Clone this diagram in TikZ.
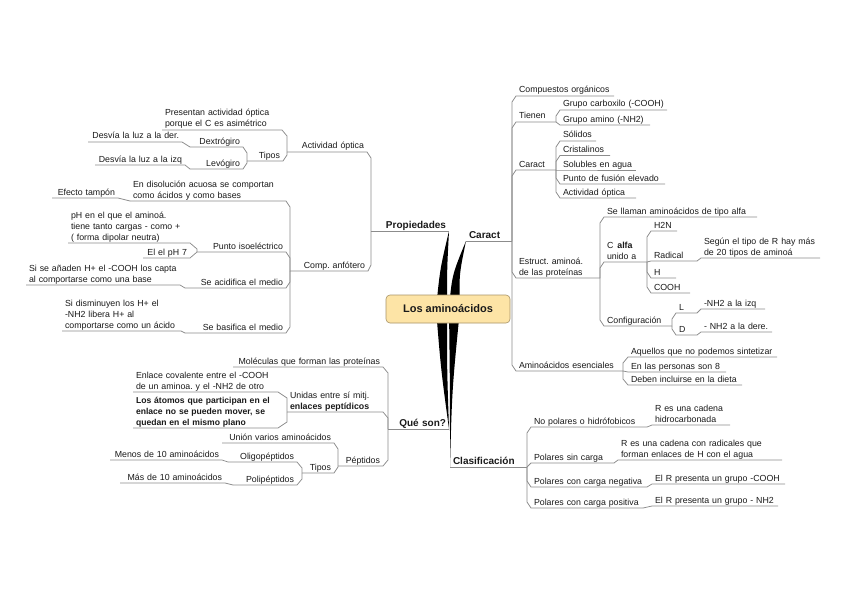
\documentclass[tikz,border=0pt]{standalone}
\usepackage{fontspec}
\setmainfont{Liberation Sans}
\usetikzlibrary{calc}
\frenchspacing
\definecolor{lineg}{HTML}{8C8C8C}
\definecolor{boxfill}{HTML}{FDE4A6}
\definecolor{boxdraw}{HTML}{A89468}
\definecolor{txt}{HTML}{1A1A1A}
\newcommand\rconn[3]{\draw[conn] (#1.south east) -- ($(#1.south east |- #2.south west)+(0,#3)$) -- (#2.south west) -- (#2.south east);}
\newcommand\lconn[3]{\draw[conn] (#1.south west) -- ($(#1.south west |- #2.south east)+(0,#3)$) -- (#2.south east) -- (#2.south west);}
\tikzset{
  tn/.style={inner xsep=3pt, inner ysep=0.8pt, outer sep=0pt, text depth=2.2pt, text=txt, font=\fontsize{8.8}{11}\selectfont},
  rn/.style={tn, anchor=south west, align=left, text width=#1},
  ln/.style={tn, anchor=south east, align=right, text width=#1},
  lnl/.style={tn, anchor=south east, align=left, text width=#1},
  mltwo/.style={text depth=13.2pt},
  mlthree/.style={text depth=24.2pt},
  mainf/.style={font=\fontsize{10}{12}\selectfont\bfseries},
  conn/.style={draw=lineg, line width=0.75pt},
  spike/.style={fill=black},
  rootbox/.style={rounded corners=4pt, minimum width=124pt, minimum height=28pt, fill=boxfill, draw=boxdraw, line width=0.6pt, text=txt, font=\fontsize{11}{13}\selectfont\bfseries, inner sep=0pt},
}
\begin{document}
\begin{tikzpicture}[x=1pt, y=-1pt]
\fill[white] (0,0) rectangle (848,599);
\useasboundingbox (0,0) rectangle (848,599);

% ---------- main branch nodes ----------
\node[rn=40pt, mainf] (caract) at (466,241) {Caract};
\node[rn=71pt, mainf] (clasif) at (450,467) {Clasificación};
\node[ln=72pt, mainf] (propied) at (449,231) {Propiedades};
\node[ln=55pt, mainf] (queson) at (449,429) {Qué son?};

% ---------- right side: Caract ----------
\node[rn=92pt] (comp) at (516,96) {Compuestos orgánicos};
\node[rn=34pt] (tienen) at (516,122) {Tienen};
\node[rn=101pt] (carbox) at (560,110) {Grupo carboxilo (-COOH)};
\node[rn=84pt] (amino) at (560,125) {Grupo amino (-NH2)};
\node[rn=34pt] (caract2) at (516,170) {Caract};
\node[rn=30pt] (solidos) at (560,141) {Sólidos};
\node[rn=44pt] (cristal) at (560,155.5) {Cristalinos};
\node[rn=70pt] (solub) at (560,170) {Solubles en agua};
\node[rn=99pt] (punto) at (560,184) {Punto de fusión elevado};
\node[rn=70pt] (actopt) at (560,198) {Actividad óptica};
\node[rn=78pt, mltwo] (estruct) at (516,278) {Estruct. aminoá.\\de las proteínas};
\node[rn=147pt] (sellaman) at (604,217) {Se llaman aminoácidos de tipo alfa};
\node[rn=37pt, mltwo] (calfa) at (604,262) {C\hspace{4pt}\textbf{alfa}\\unido a};
\node[rn=20pt] (h2n) at (651,231) {H2N};
\node[rn=40pt] (radical) at (651,261) {Radical};
\node[rn=113pt, mltwo] (segun) at (701,258) {Según el tipo de R hay más\\de 20 tipos de aminoá};
\node[rn=19pt] (hh) at (651,278) {H};
\node[rn=33pt] (cooh) at (651,293) {COOH};
\node[rn=62pt] (config) at (604,326) {Configuración};
\node[rn=15pt] (ll) at (676,313) {L};
\node[rn=58pt] (nhizq) at (701,309) {-NH2 a la izq};
\node[rn=15pt] (dd) at (676,335) {D};
\node[rn=65pt] (nhder) at (701,332) {- NH2 a la dere.};
\node[rn=101pt] (esenc) at (516,371) {Aminoácidos esenciales};
\node[rn=143pt] (aquellos) at (628,357) {Aquellos que no podemos sintetizar};
\node[rn=92pt] (personas) at (628,372) {En las personas son 8};
\node[rn=108pt] (dieta) at (628,385) {Deben incluirse en la dieta};

% ---------- right side: Clasificacion ----------
\node[rn=110pt] (nopol) at (531,427) {No polares o hidrófobicos};
\node[rn=72pt, mltwo] (hidroc) at (652,425) {R es una cadena\\hidrocarbonada};
\node[rn=77pt] (sincarga) at (531,463) {Polares sin carga};
\node[rn=158pt, mltwo] (radh) at (618,460) {R es una cadena con radicales que\\forman enlaces de H con el agua};
\node[rn=110pt] (negat) at (531,487) {Polares con carga negativa};
\node[rn=127pt] (elcooh) at (652,484) {El R presenta un grupo -COOH};
\node[rn=106pt] (posit) at (531,508) {Polares con carga positiva};
\node[rn=120pt] (elnh) at (652,506) {El R presenta un grupo - NH2};

% ---------- left side: Propiedades ----------
\node[ln=74pt] (activ) at (367,152) {Actividad óptica};
\node[lnl=114pt, mltwo] (presentan) at (282,130) {Presentan actividad óptica\\porque el C es asimétrico};
\node[ln=30pt] (tipos1) at (283,161) {Tipos};
\node[ln=47pt] (dextro) at (243,147) {Dextrógiro};
\node[ln=88pt] (desvder) at (182,142) {Desvía la luz a la der.};
\node[ln=47pt] (levo) at (243,169) {Levógiro};
\node[ln=84pt] (desvizq) at (185,165) {Desvía la luz a la izq};
\node[ln=72pt] (anfot) at (368,271) {Comp. anfótero};
\node[lnl=150pt, mltwo] (disol) at (286,201) {En disolución acuosa se comportan\\como ácidos y como bases};
\node[ln=60pt] (tampon) at (118,198) {Efecto tampón};
\node[ln=83pt] (isoel) at (286,252) {Punto isoeléctrico};
\node[lnl=116pt, mlthree] (phen) at (190,243) {pH en el que el aminoá.\\tiene tanto cargas - como +\\( forma dipolar neutra)};
\node[ln=41pt] (ph7) at (190,258) {El el pH 7};
\node[ln=95pt] (acid) at (286,288) {Se acidifica el medio};
\node[lnl=148pt, mltwo] (anaden) at (180,285) {Si se añaden H+ el -COOH los capta\\al comportarse como una base};
\node[ln=95pt] (basif) at (286,333) {Se basifica el medio};
\node[lnl=113pt, mlthree] (dismin) at (181,331) {Si disminuyen los H+ el\\-NH2 libera H+ al\\comportarse como un ácido};

% ---------- left side: Que son ----------
\node[ln=144pt] (molec) at (383,367) {Moléculas que forman las proteínas};
\node[lnl=90pt, mltwo] (unidas) at (383,412) {Unidas entre sí mitj.\\\textbf{enlaces peptídicos}};
\node[lnl=139pt, mltwo] (coval) at (278,392) {Enlace covalente entre el -COOH\\de un aminoa. y el -NH2 de otro};
\node[lnl=139pt, mlthree, font=\fontsize{8.6}{11}\selectfont\bfseries] (atomos) at (278,428) {Los átomos que participan en el\\enlace no se pueden mover, se\\quedan en el mismo plano};
\node[ln=39pt] (peptidos) at (383,466) {Péptidos};
\node[ln=106pt] (union) at (334,443) {Unión varios aminoácidos};
\node[ln=26pt] (tipos2) at (334,473) {Tipos};
\node[ln=63pt] (oligo) at (297,462) {Oligopéptidos};
\node[ln=106pt] (menos) at (222,460) {Menos de 10 aminoácidos};
\node[ln=58pt] (polip) at (297,485) {Polipéptidos};
\node[ln=99pt] (mas) at (225,483) {Más de 10 aminoácidos};

% ---------- central coordinate for spikes ----------
\coordinate (rc) at (448,309);

% spikes
\fill[spike] ($(rc)+(-12,0)$) .. controls ($(rc)+(-8,-40)$) .. (propied.south east) .. controls ($(rc)+(-1,-40)$) .. ($(rc)+(-1,0)$) -- cycle;
\fill[spike] ($(rc)+(1,0)$) .. controls ($(rc)+(4,-34)$) .. (caract.south west) .. controls ($(rc)+(11,-34)$) .. ($(rc)+(12,0)$) -- cycle;
\fill[spike] ($(rc)+(-12,0)$) .. controls ($(rc)+(-7,61)$) .. (queson.south east) .. controls ($(rc)+(-1,61)$) .. ($(rc)+(-1,0)$) -- cycle;
\fill[spike] ($(rc)+(1,0)$) .. controls ($(rc)+(2,81)$) .. (clasif.south west) .. controls ($(rc)+(4,81)$) .. ($(rc)+(12,0)$) -- cycle;

\node[rootbox] (root) at (rc) {Los aminoácidos};

% main underlines
\draw[conn] (caract.south west) -- (caract.south east);
\draw[conn] (clasif.south west) -- (clasif.south east);
\draw[conn] (propied.south east) -- (propied.south west);
\draw[conn] (queson.south east) -- (queson.south west);

% ---------- connectors right ----------
\rconn{caract}{comp}{6}
\rconn{caract}{tienen}{6}
\rconn{caract}{caract2}{6}
\rconn{caract}{estruct}{-6}
\rconn{caract}{esenc}{-6}
\rconn{tienen}{carbox}{6}
\rconn{tienen}{amino}{-3}
\rconn{caract2}{solidos}{6}
\rconn{caract2}{cristal}{6}
\rconn{caract2}{solub}{0}
\rconn{caract2}{punto}{-6}
\rconn{caract2}{actopt}{-6}
\rconn{estruct}{sellaman}{6}
\rconn{estruct}{calfa}{6}
\rconn{estruct}{config}{-6}
\rconn{calfa}{h2n}{6}
\rconn{calfa}{radical}{1}
\rconn{calfa}{hh}{-6}
\rconn{calfa}{cooh}{-6}
\rconn{radical}{segun}{3}
\rconn{config}{ll}{6}
\rconn{config}{dd}{-6}
\rconn{ll}{nhizq}{4}
\rconn{dd}{nhder}{3}
\rconn{esenc}{aquellos}{6}
\rconn{esenc}{personas}{-1}
\rconn{esenc}{dieta}{-6}
\rconn{clasif}{nopol}{6}
\rconn{clasif}{sincarga}{4}
\rconn{clasif}{negat}{-6}
\rconn{clasif}{posit}{-6}
\rconn{nopol}{hidroc}{2}
\rconn{sincarga}{radh}{3}
\rconn{negat}{elcooh}{3}
\rconn{posit}{elnh}{2}

% ---------- connectors left ----------
\lconn{propied}{activ}{6}
\lconn{propied}{anfot}{-6}
\lconn{activ}{presentan}{6}
\lconn{activ}{tipos1}{-6}
\lconn{tipos1}{dextro}{6}
\lconn{tipos1}{levo}{-6}
\lconn{dextro}{desvder}{5}
\lconn{levo}{desvizq}{4}
\lconn{anfot}{disol}{6}
\lconn{anfot}{isoel}{6}
\lconn{anfot}{acid}{-6}
\lconn{anfot}{basif}{-6}
\lconn{disol}{tampon}{3}
\lconn{isoel}{phen}{6}
\lconn{isoel}{ph7}{-6}
\lconn{acid}{anaden}{3}
\lconn{basif}{dismin}{2}
\lconn{queson}{molec}{6}
\lconn{queson}{unidas}{6}
\lconn{queson}{peptidos}{-6}
\lconn{unidas}{coval}{6}
\lconn{unidas}{atomos}{-6}
\lconn{peptidos}{union}{6}
\lconn{peptidos}{tipos2}{-6}
\lconn{tipos2}{oligo}{6}
\lconn{tipos2}{polip}{-6}
\lconn{oligo}{menos}{2}
\lconn{polip}{mas}{2}
\end{tikzpicture}
\end{document}
